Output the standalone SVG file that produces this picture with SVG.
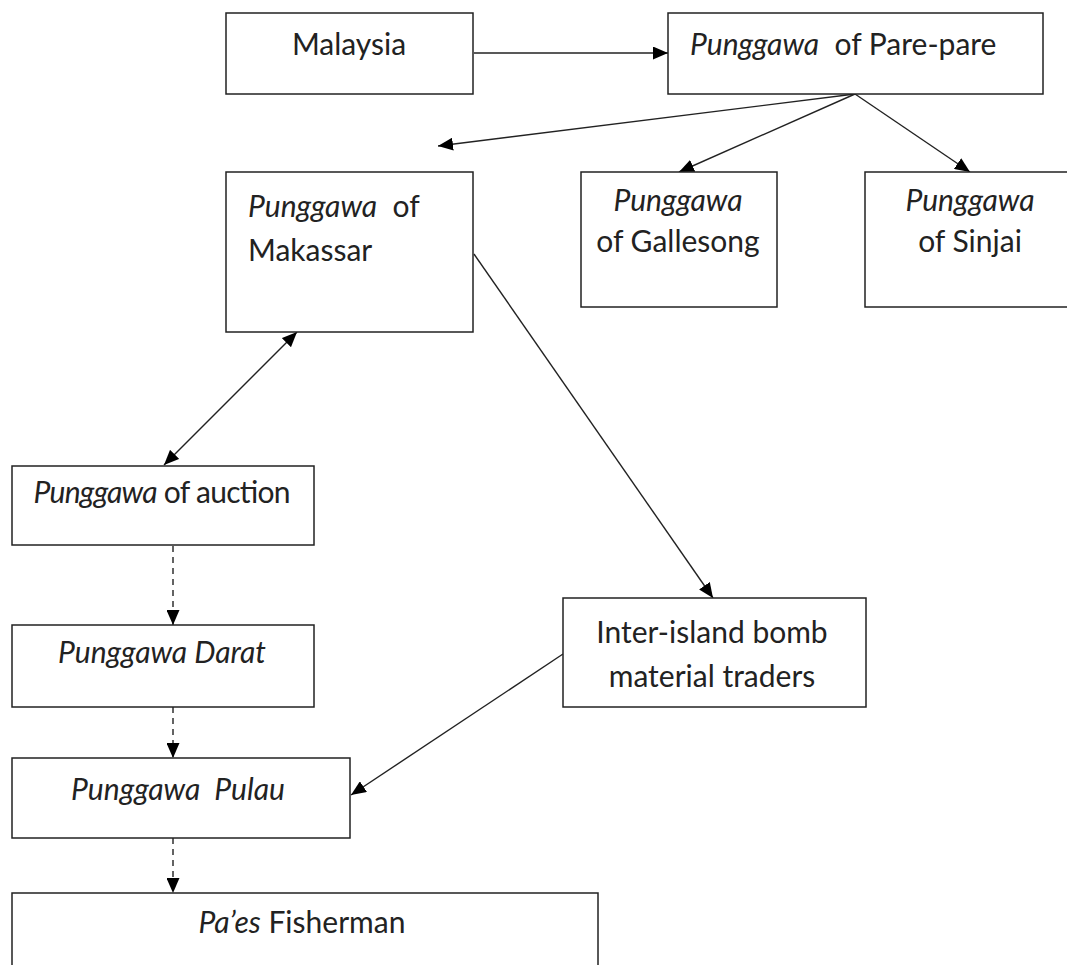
<svg xmlns="http://www.w3.org/2000/svg" width="1067" height="965" viewBox="0 0 1067 965">
<style>
.box{fill:#fff;stroke:#222;stroke-width:1.5}
.t{font-family:Lato,"Open Sans","Liberation Sans",sans-serif;font-size:30px;fill:#222}
.i{font-style:italic}
.c{stroke:#222;stroke-width:1.4;fill:none}
.d{stroke-dasharray:6,5}
</style>
<defs>
<marker id="ah" viewBox="0 0 15 13" refX="15" refY="6.5" markerWidth="15" markerHeight="13" markerUnits="userSpaceOnUse" orient="auto-start-reverse">
<path d="M0,0 L15,6.5 L0,13 Z" fill="#000"/>
</marker>
</defs>
<rect width="1067" height="965" fill="#fff"/>
<g id="connectors">
<line class="c" x1="474" y1="53" x2="668" y2="53" marker-end="url(#ah)"/>
<line class="c" x1="855" y1="94" x2="438" y2="146" marker-end="url(#ah)"/>
<line class="c" x1="855" y1="94" x2="679" y2="172" marker-end="url(#ah)"/>
<line class="c" x1="855" y1="94" x2="970" y2="172" marker-end="url(#ah)"/>
<line class="c" x1="474" y1="254" x2="713" y2="598" marker-end="url(#ah)"/>
<line class="c" x1="297" y1="332" x2="164" y2="465" marker-start="url(#ah)" marker-end="url(#ah)"/>
<line class="c d" x1="173" y1="546" x2="173" y2="625" marker-end="url(#ah)"/>
<line class="c d" x1="173" y1="707" x2="173" y2="758" marker-end="url(#ah)"/>
<line class="c d" x1="173" y1="838" x2="173" y2="893" marker-end="url(#ah)"/>
<line class="c" x1="563" y1="654" x2="351" y2="795" marker-end="url(#ah)"/>
</g>
<g id="malaysia">
<rect class="box" x="226" y="13" width="247" height="81"/>
<text class="t" x="349" y="55" text-anchor="middle">Malaysia</text>
</g>
<g id="pare-pare">
<rect class="box" x="668" y="13" width="375" height="81"/>
<text class="t" x="690" y="55" xml:space="preserve"><tspan class="i">Punggawa</tspan>  of Pare-pare</text>
</g>
<g id="makassar">
<rect class="box" x="226" y="172" width="247" height="160"/>
<text class="t" x="248" y="217" xml:space="preserve"><tspan class="i">Punggawa</tspan>  of</text>
<text class="t" x="248" y="261">Makassar</text>
</g>
<g id="gallesong">
<rect class="box" x="581" y="172" width="196" height="135"/>
<text class="t" x="678" y="211" text-anchor="middle"><tspan class="i">Punggawa</tspan></text>
<text class="t" x="678" y="252" text-anchor="middle">of Gallesong</text>
</g>
<g id="sinjai">
<rect class="box" x="865" y="172" width="215" height="135"/>
<text class="t" x="970" y="211" text-anchor="middle"><tspan class="i">Punggawa</tspan></text>
<text class="t" x="970" y="252" text-anchor="middle">of Sinjai</text>
</g>
<g id="auction">
<rect class="box" x="12" y="466" width="302" height="79"/>
<text class="t" x="162" y="503" text-anchor="middle" textLength="257"><tspan class="i">Punggawa</tspan> of auction</text>
</g>
<g id="darat">
<rect class="box" x="12" y="625" width="302" height="82"/>
<text class="t i" x="162" y="663" text-anchor="middle">Punggawa Darat</text>
</g>
<g id="pulau">
<rect class="box" x="12" y="758" width="338" height="80"/>
<text class="t i" x="178" y="800" text-anchor="middle" xml:space="preserve">Punggawa  Pulau</text>
</g>
<g id="paes">
<rect class="box" x="12" y="893" width="586" height="90"/>
<text class="t" x="302" y="933" text-anchor="middle"><tspan class="i">Pa’es</tspan> Fisherman</text>
</g>
<g id="inter-island">
<rect class="box" x="563" y="598" width="303" height="109"/>
<text class="t" x="712" y="643" text-anchor="middle">Inter-island bomb</text>
<text class="t" x="712" y="687" text-anchor="middle">material traders</text>
</g>
</svg>
